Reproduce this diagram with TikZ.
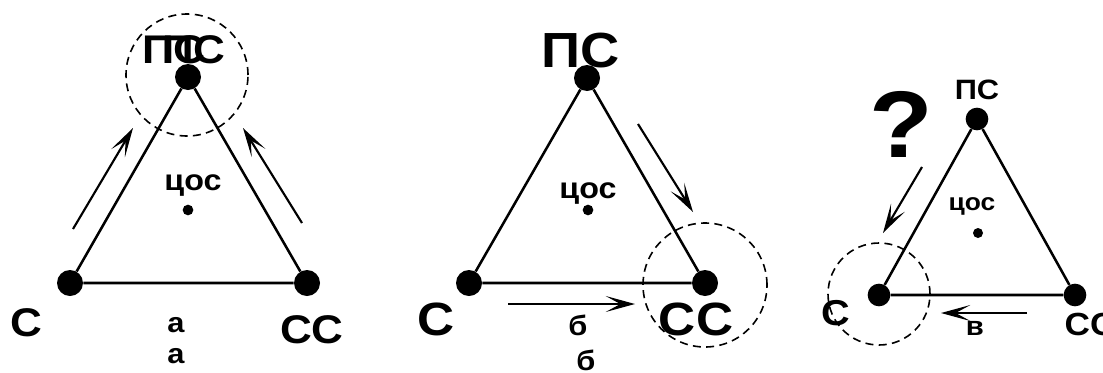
\documentclass[tikz,border=0pt]{standalone}
\usepackage{fontspec}
\setmainfont{Liberation Sans}[FakeStretch=1.1]
\usetikzlibrary{arrows.meta}

\begin{document}
\begin{tikzpicture}[x=0.75pt,y=-0.75pt,
  vtx/.style={circle,fill=black,inner sep=0pt,minimum size=19.5pt},
  ctr/.style={circle,fill=black,inner sep=0pt,minimum size=8pt},
  ring/.style={circle,draw,dash pattern=on 6pt off 4pt,line width=1.2pt,inner sep=0pt},
  side/.style={line width=1.9pt},
  arr/.style={-{Stealth[length=22pt,width=12pt,inset=11pt]},line width=1.6pt},
  lbl/.style={anchor=base,inner sep=0pt,font=\bfseries\fontsize{#1}{#1}\selectfont}]
  \useasboundingbox (0,0) rectangle (1103,372);

  % --- a: towards PS
  \node[ring,minimum size=91.5pt] (ringA) at (187,75) {};
  \node[vtx] (psA) at (188,77) {};
  \node[vtx] (sA)  at (70,283) {};
  \node[vtx] (ssA) at (307,283) {};
  \node[ctr] (cA)  at (188,210) {};
  \draw[side] (sA)--(psA)--(ssA)--(sA);
  \coordinate (aL1) at (73,229);  \coordinate (aL2) at (133,128);
  \coordinate (aR1) at (302,223); \coordinate (aR2) at (243,128);
  \draw[arr] (aL1)--(aL2); \draw[arr] (aR1)--(aR2);
  \node[lbl=30pt] (psAt)  at (174,63) {ПС};
  \node[lbl=30pt] (psAt2) at (194,63) {ПС};
  \node[lbl=30pt] (sAt)   at (26,336) {С};
  \node[lbl=30pt] (ssAt)  at (312,343) {СС};
  \node[lbl=22pt] (cAt)   at (193,190) {цос};
  \node[lbl=21pt] (capA)  at (176,332) {а};
  \node[lbl=21pt] (capA2) at (176,363) {а};

  % --- b: towards SS
  \node[ring,minimum size=93pt] (ringB) at (705,285) {};
  \node[vtx] (psB) at (587,78) {};
  \node[vtx] (sB)  at (469,283) {};
  \node[vtx] (ssB) at (705,283) {};
  \node[ctr] (cB)  at (588,210) {};
  \draw[side] (sB)--(psB)--(ssB)--(sB);
  \coordinate (bR1) at (638,124); \coordinate (bR2) at (693,212);
  \coordinate (bB1) at (508,304); \coordinate (bB2) at (635,304);
  \draw[arr] (bR1)--(bR2); \draw[arr] (bB1)--(bB2);
  \node[lbl=37pt] (psBt)  at (581,67) {ПС};
  \node[lbl=35pt] (sBt)   at (436,335) {С};
  \node[lbl=35pt] (ssBt)  at (696,335) {СС};
  \node[lbl=22pt] (cBt)   at (588,198) {цос};
  \node[lbl=21pt] (capB)  at (578,335) {б};
  \node[lbl=21pt] (capB2) at (586,370) {б};

  % --- c: towards S?
  \node[ring,minimum size=76.5pt] (ringC) at (879,294) {};
  \node[vtx,minimum size=17pt] (psC) at (977,119) {};
  \node[vtx,minimum size=17pt] (sC)  at (879,295) {};
  \node[vtx,minimum size=17pt] (ssC) at (1075,295) {};
  \node[ctr,minimum size=7.5pt] (cC) at (978,233) {};
  \draw[side] (sC)--(psC)--(ssC)--(sC);
  \coordinate (cL1) at (922,167);  \coordinate (cL2) at (883,233);
  \coordinate (cB1) at (1027,313); \coordinate (cB2) at (941,313);
  \draw[arr] (cL1)--(cL2); \draw[arr] (cB1)--(cB2);
  \node[lbl=21pt] (psCt) at (977,99) {ПС};
  \node[lbl=71pt] (qC)   at (901,157) {?};
  \node[lbl=27pt] (sCt)  at (836,325) {С};
  \node[lbl=24pt] (ssCt) at (1090,335) {СС};
  \node[lbl=18pt] (cCt)  at (972,210) {цос};
  \node[lbl=20pt] (capC) at (975,335) {в};
\end{tikzpicture}
\end{document}
